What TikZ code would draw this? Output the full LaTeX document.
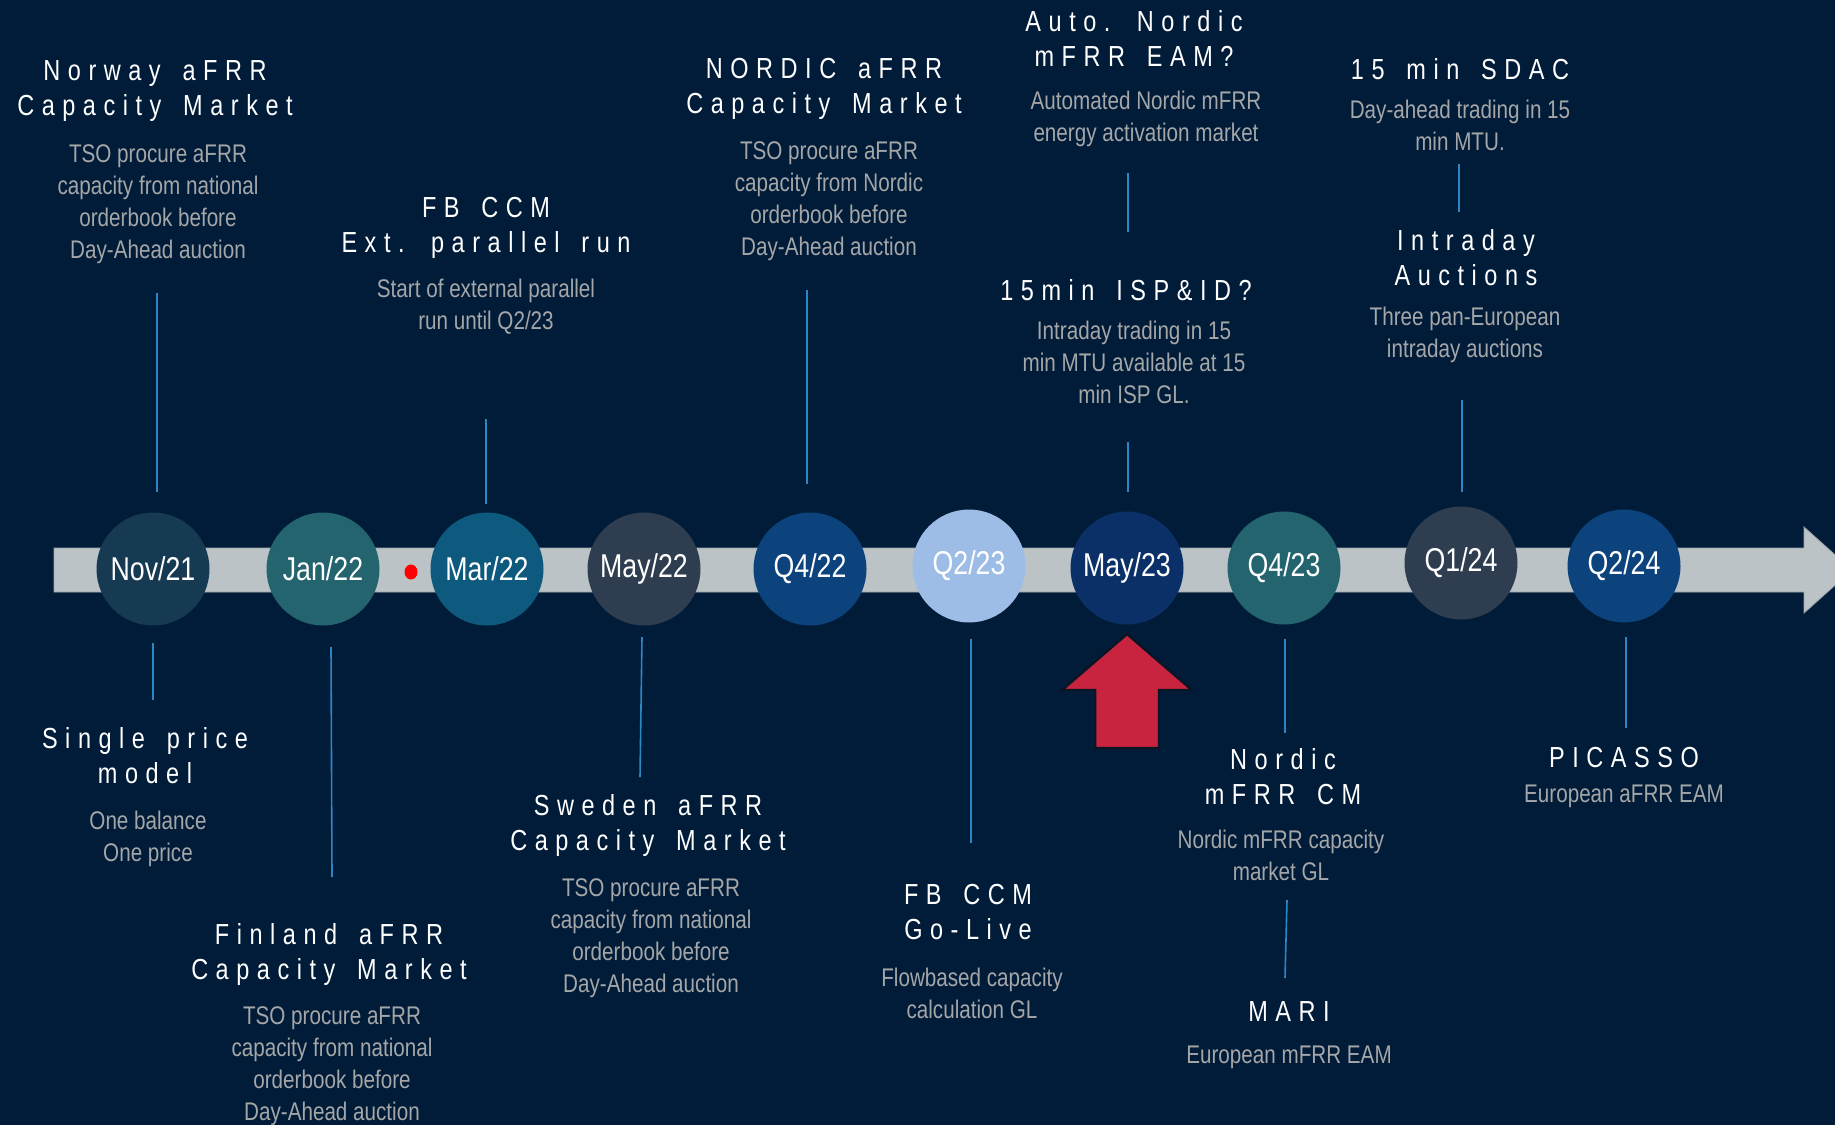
\documentclass[tikz,border=0pt]{standalone}
\usepackage{fontspec}
\setmainfont{Liberation Sans}[FakeStretch=0.81]
\newfontfamily\hfont{Liberation Sans}[FakeStretch=0.81,LetterSpace=26,WordSpace=1.55]
\definecolor{bg}{HTML}{011C38}
\definecolor{bodygray}{HTML}{A4A6A8}
\definecolor{connblue}{HTML}{2E86C8}
\definecolor{barcol}{HTML}{BCC3C6}
\definecolor{baredge}{HTML}{9AA3A8}
\definecolor{cNov}{HTML}{163A52}
\definecolor{cTeal}{HTML}{23646E}
\definecolor{cMar}{HTML}{0D5A7E}
\definecolor{cSlate}{HTML}{2E3E50}
\definecolor{cBlue}{HTML}{0C437C}
\definecolor{cLight}{HTML}{9DBDE6}
\definecolor{cMay}{HTML}{0B3068}
\definecolor{redarrow}{HTML}{C8243F}
\definecolor{arrowedge}{HTML}{0A1525}
\tikzset{
  head/.style={text=white, font=\hfont\fontsize{29}{35}\selectfont, align=center, inner sep=0pt},
  body/.style={text=bodygray, font=\fontsize{25.5}{32}\selectfont, align=center, inner sep=0pt},
  datecirc/.style={circle, minimum size=113pt, inner sep=0pt, text=white, font=\fontsize{33}{40}\selectfont},
  conn/.style={draw=connblue, line width=1.6pt},
}
\begin{document}
\begin{tikzpicture}[x=1pt,y=-1pt]
\useasboundingbox (0,0) rectangle (1835,1125);
\clip (0,0) rectangle (1835,1125);
\fill[bg] (0,0) rectangle (1835,1125);

% timeline bar with arrow head
\filldraw[fill=barcol, draw=baredge, line width=0.8pt]
  (54,548) -- (1804,548) -- (1804,527) -- (1852,570) -- (1804,613) -- (1804,592) -- (54,592) -- cycle;

% date circles
\node[datecirc, fill=cNov]   (nov)   at (153,569) {Nov/21};
\node[datecirc, fill=cTeal]  (jan)   at (323,569) {Jan/22};
\node[datecirc, fill=cMar]   (mar)   at (487,569) {Mar/22};
\node[datecirc, fill=cSlate] (may22) at (644,569) {May/22};
\node[datecirc, fill=cBlue]  (q422)  at (810,569) {Q4/22};
\node[datecirc, fill=cLight] (q223)  at (969,566) {Q2/23};
\node[datecirc, fill=cMay]   (may23) at (1127,568) {May/23};
\node[datecirc, fill=cTeal]  (q423)  at (1284,568) {Q4/23};
\node[datecirc, fill=cSlate] (q124)  at (1461,563) {Q1/24};
\node[datecirc, fill=cBlue]  (q224)  at (1624,566) {Q2/24};

% red dot
\fill[red] (411,572) ellipse [x radius=6.5, y radius=7.5];

% red up arrow
\filldraw[fill=redarrow, draw=arrowedge, line width=2.5pt, line join=miter]
  (1127,634) -- (1192,690) -- (1159,690) -- (1159,748) -- (1095,748) -- (1095,690) -- (1062,690) -- cycle;

% ---- top texts ----
\node[head] (norwayH) at (155,91.3) {Norway aFRR\\Capacity Market};
\node[body] (norwayB) at (158,204.6) {TSO procure aFRR\\capacity from national\\orderbook before\\Day-Ahead auction};

\node[head] (fbextH) at (486,227.8) {FB CCM\\Ext. parallel run};
\node[body] (fbextB) at (486,307) {Start of external parallel\\run until Q2/23};

\node[head] (nordicH) at (824,89.3) {NORDIC aFRR\\Capacity Market};
\node[body] (nordicB) at (829,201.1) {TSO procure aFRR\\capacity from Nordic\\orderbook before\\Day-Ahead auction};

\node[head] (autoH) at (1134,38) {Auto. Nordic\\mFRR EAM?};
\node[body] (autoB) at (1146,119.1) {Automated Nordic mFRR\\energy activation market};

\node[head] (ispH) at (1126,290) {15min ISP\&ID?};
\node[body] (ispB) at (1134,362.5) {Intraday trading in 15\\min MTU available at 15\\min ISP GL.};

\node[head] (sdacH) at (1460,69) {15 min SDAC};
\node[body] (sdacB) at (1460,125) {Day-ahead trading in 15\\min MTU.};

\node[head] (idaH) at (1466,258) {Intraday\\Auctions};
\node[body] (idaB) at (1465,334.6) {Three pan-European\\intraday auctions};

% ---- bottom texts ----
\node[head] (singleH) at (145,755.5) {Single price\\model};
\node[body] (singleB) at (148,839.1) {One balance\\One price};

\node[head] (finH) at (329,954.3) {Finland aFRR\\Capacity Market};
\node[body] (finB) at (332,1066.6) {TSO procure aFRR\\capacity from national\\orderbook before\\Day-Ahead auction};

\node[head] (sweH) at (648,825.3) {Sweden aFRR\\Capacity Market};
\node[body] (sweB) at (651,938.1) {TSO procure aFRR\\capacity from national\\orderbook before\\Day-Ahead auction};

\node[head] (goliveH) at (968,911.5) {FB CCM\\Go-Live};
\node[body] (goliveB) at (972,993) {Flowbased capacity\\calculation GL};

\node[head] (mfrrH) at (1283,777) {Nordic\\mFRR CM};
\node[body] (mfrrB) at (1281,855) {Nordic mFRR capacity\\market GL};

\node[head] (mariH) at (1289,1012) {MARI};
\node[body] (mariB) at (1289,1057.6) {European mFRR EAM};

\node[head] (picH) at (1624,758) {PICASSO};
\node[body] (picB) at (1624,796.6) {European aFRR EAM};

% ---- connector lines ----
\coordinate (c1a) at (157,293);  \coordinate (c1b) at (157,492);
\coordinate (c2a) at (486,419);  \coordinate (c2b) at (486,504);
\coordinate (c3a) at (807,290);  \coordinate (c3b) at (807,484);
\coordinate (c4a) at (1128,173); \coordinate (c4b) at (1128,232);
\coordinate (c5a) at (1128,442); \coordinate (c5b) at (1128,492);
\coordinate (c6a) at (1459,164); \coordinate (c6b) at (1459,212);
\coordinate (c7a) at (1462,400); \coordinate (c7b) at (1462,492);
\coordinate (c8a) at (153,643);  \coordinate (c8b) at (153,700);
\coordinate (c9a) at (331,647);  \coordinate (c9b) at (332,877);
\coordinate (c10a) at (642,637); \coordinate (c10b) at (640,777);
\coordinate (c11a) at (971,639); \coordinate (c11b) at (971,843);
\coordinate (c12a) at (1285,639); \coordinate (c12b) at (1285,733);
\coordinate (c13a) at (1287,900); \coordinate (c13b) at (1285,978);
\coordinate (c14a) at (1626,637); \coordinate (c14b) at (1626,728);
\foreach \i in {1,...,14} { \draw[conn] (c\i a) -- (c\i b); }
\end{tikzpicture}
\end{document}
